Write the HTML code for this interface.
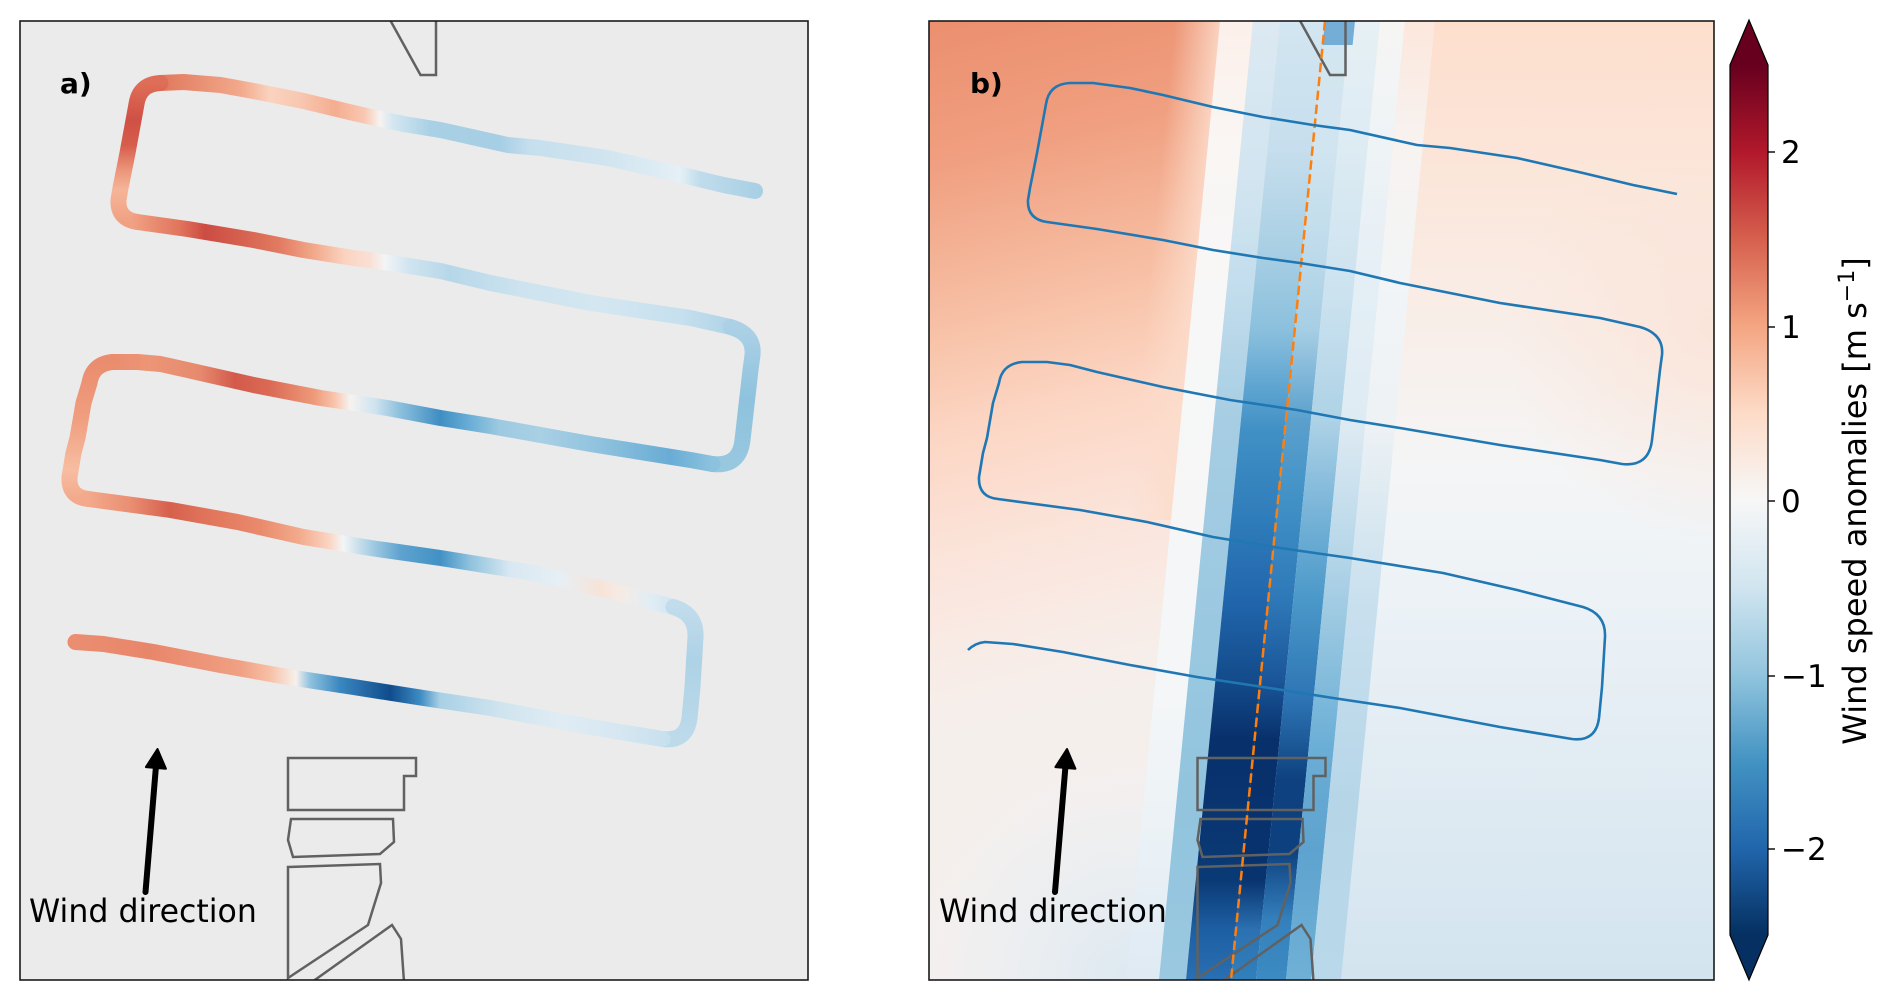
<!DOCTYPE html>
<html><head><meta charset="utf-8"><style>html,body{margin:0;padding:0;background:#fff;}svg{display:block}</style></head>
<body>
<svg width="1892" height="1001" viewBox="0 0 1892 1001" xmlns="http://www.w3.org/2000/svg" font-family="'DejaVu Sans','Liberation Sans',sans-serif">
<defs>
<clipPath id="cpa"><rect x="20" y="21" width="788" height="959"/></clipPath>
<clipPath id="cpb"><rect x="929" y="21" width="785" height="959"/></clipPath>

<linearGradient id="gA" gradientUnits="userSpaceOnUse" x1="0" y1="0" x2="800" y2="0">
<stop offset=".175" stop-color="#dc6b55"/><stop offset=".226" stop-color="#e58468"/><stop offset=".301" stop-color="#f2a98c"/>
<stop offset=".338" stop-color="#fad3bf"/><stop offset=".375" stop-color="#f8c7b0"/><stop offset=".419" stop-color="#f4ad90"/>
<stop offset=".456" stop-color="#f9c8b2"/><stop offset=".475" stop-color="#f7f3f1"/><stop offset=".49" stop-color="#d5e7f1"/>
<stop offset=".538" stop-color="#a9d0e5"/><stop offset=".625" stop-color="#a6cee4"/><stop offset=".663" stop-color="#c6dfee"/>
<stop offset=".75" stop-color="#cfe4ef"/><stop offset=".825" stop-color="#deecf4"/><stop offset=".85" stop-color="#e6f0f5"/>
<stop offset=".875" stop-color="#c0dcec"/><stop offset=".95" stop-color="#a8cfe4"/>
</linearGradient>
<linearGradient id="gB" gradientUnits="userSpaceOnUse" x1="0" y1="0" x2="0" y2="1000">
<stop offset=".083" stop-color="#df6e58"/><stop offset=".12" stop-color="#cf5045"/><stop offset=".145" stop-color="#d65d4c"/>
<stop offset=".17" stop-color="#eb957a"/><stop offset=".19" stop-color="#f5b598"/><stop offset=".222" stop-color="#f1a082"/>
</linearGradient>
<linearGradient id="gC" gradientUnits="userSpaceOnUse" x1="0" y1="0" x2="800" y2="0">
<stop offset=".1625" stop-color="#f2a385"/><stop offset=".226" stop-color="#e0735c"/><stop offset=".256" stop-color="#cc4c43"/>
<stop offset=".3" stop-color="#d5604e"/><stop offset=".35" stop-color="#e27b62"/><stop offset=".3925" stop-color="#f2a98b"/>
<stop offset=".431" stop-color="#fbd3c0"/><stop offset=".4625" stop-color="#f9e0d4"/><stop offset=".481" stop-color="#f3f4f5"/>
<stop offset=".5125" stop-color="#cfe4f0"/><stop offset=".5625" stop-color="#b6d7e9"/><stop offset=".65" stop-color="#cde3ef"/>
<stop offset=".75" stop-color="#d4e7f1"/><stop offset=".85" stop-color="#c6e0ee"/><stop offset=".925" stop-color="#acd1e6"/>
</linearGradient>
<linearGradient id="gD" gradientUnits="userSpaceOnUse" x1="0" y1="0" x2="0" y2="1000">
<stop offset=".327" stop-color="#acd1e6"/><stop offset=".4" stop-color="#8ec2dd"/><stop offset=".464" stop-color="#98c7e0"/>
</linearGradient>
<linearGradient id="gE" gradientUnits="userSpaceOnUse" x1="0" y1="0" x2="800" y2="0">
<stop offset=".14" stop-color="#ea8d70"/><stop offset=".1875" stop-color="#ed9576"/><stop offset=".25" stop-color="#e68a6e"/>
<stop offset=".294" stop-color="#d35a4b"/><stop offset=".3375" stop-color="#db6a55"/><stop offset=".3925" stop-color="#ee9a7a"/>
<stop offset=".419" stop-color="#f8c6ae"/><stop offset=".4375" stop-color="#f6f3f1"/><stop offset=".469" stop-color="#cfe3ef"/>
<stop offset=".5" stop-color="#8cc0dd"/><stop offset=".55" stop-color="#3f8ec3"/><stop offset=".5875" stop-color="#6aaed6"/>
<stop offset=".625" stop-color="#9dcae1"/><stop offset=".675" stop-color="#a9d0e5"/><stop offset=".75" stop-color="#8fc2de"/>
<stop offset=".8375" stop-color="#69acd5"/><stop offset=".89" stop-color="#8cc2de"/>
</linearGradient>
<linearGradient id="gF" gradientUnits="userSpaceOnUse" x1="0" y1="0" x2="0" y2="1000">
<stop offset=".362" stop-color="#ea8c6e"/><stop offset=".42" stop-color="#f09f80"/><stop offset=".47" stop-color="#f7bda1"/><stop offset=".499" stop-color="#f3a98b"/>
</linearGradient>
<linearGradient id="gG" gradientUnits="userSpaceOnUse" x1="0" y1="0" x2="800" y2="0">
<stop offset=".11" stop-color="#f3a98b"/><stop offset=".1625" stop-color="#ea8f73"/><stop offset=".2125" stop-color="#d6604d"/>
<stop offset=".25" stop-color="#df7159"/><stop offset=".325" stop-color="#ea8a6c"/><stop offset=".375" stop-color="#f3ab8d"/>
<stop offset=".4125" stop-color="#fbd6c4"/><stop offset=".429" stop-color="#f4f5f6"/><stop offset=".4625" stop-color="#a9cfe4"/>
<stop offset=".5" stop-color="#5fa3cf"/><stop offset=".55" stop-color="#4191c5"/><stop offset=".5875" stop-color="#8fc2de"/>
<stop offset=".6375" stop-color="#d8e8f2"/><stop offset=".7" stop-color="#e6eff4"/><stop offset=".75" stop-color="#f7e3d8"/>
<stop offset=".775" stop-color="#f6ebe4"/><stop offset=".8125" stop-color="#e1edf4"/><stop offset=".8625" stop-color="#c6dfee"/>
</linearGradient>
<linearGradient id="gH" gradientUnits="userSpaceOnUse" x1="0" y1="0" x2="0" y2="1000">
<stop offset=".607" stop-color="#c1dcec"/><stop offset=".66" stop-color="#aed2e6"/><stop offset=".74" stop-color="#bcdaea"/>
</linearGradient>
<linearGradient id="gI" gradientUnits="userSpaceOnUse" x1="0" y1="0" x2="800" y2="0">
<stop offset=".094" stop-color="#eb8d70"/><stop offset=".1875" stop-color="#e8866a"/><stop offset=".3" stop-color="#f0a083"/>
<stop offset=".3375" stop-color="#f7c0a6"/><stop offset=".37" stop-color="#f7f0ec"/><stop offset=".3875" stop-color="#8fc2de"/>
<stop offset=".425" stop-color="#3a87c0"/><stop offset=".4875" stop-color="#0f4c8c"/><stop offset=".525" stop-color="#3d8bc2"/>
<stop offset=".55" stop-color="#a9d0e5"/><stop offset=".625" stop-color="#cfe4ef"/><stop offset=".7" stop-color="#e0ecf4"/>
<stop offset=".775" stop-color="#d6e7f1"/><stop offset=".8375" stop-color="#c6e0ee"/>
</linearGradient>

<linearGradient id="rf" gradientUnits="userSpaceOnUse" x1="0" y1="0" x2="0" y2="1000">
<stop offset=".021" stop-color="#fddfcd"/><stop offset=".12" stop-color="#fce3d5"/><stop offset=".25" stop-color="#faeae1"/>
<stop offset=".38" stop-color="#f7f1ee"/><stop offset=".47" stop-color="#f4f5f6"/><stop offset=".6" stop-color="#ecf2f6"/>
<stop offset=".75" stop-color="#e2ecf3"/><stop offset=".9" stop-color="#d8e7f1"/><stop offset=".98" stop-color="#d3e4ef"/>
</linearGradient>
<radialGradient id="rpe" gradientUnits="userSpaceOnUse" cx="1714" cy="330" r="210">
<stop offset="0" stop-color="#fbe3d7" stop-opacity=".85"/><stop offset="1" stop-color="#fbe3d7" stop-opacity="0"/>
</radialGradient>
<linearGradient id="lf" gradientUnits="userSpaceOnUse" x1="929" y1="21" x2="1100" y2="700">
<stop offset="0" stop-color="#eb8f6f"/><stop offset=".2" stop-color="#f09f80"/><stop offset=".45" stop-color="#f8c4aa"/>
<stop offset=".58" stop-color="#fcd6c4"/><stop offset=".75" stop-color="#fbe4da"/><stop offset=".9" stop-color="#f8ece7"/><stop offset="1" stop-color="#f5efec"/>
</linearGradient>
<linearGradient id="lfo" gradientUnits="userSpaceOnUse" x1="1175" y1="21" x2="1219.8" y2="25.4">
<stop offset="0" stop-color="#fcdccb" stop-opacity="0"/><stop offset="1" stop-color="#fcdccb" stop-opacity=".85"/>
</linearGradient>
<radialGradient id="lbb" gradientUnits="userSpaceOnUse" cx="1130" cy="980" r="240">
<stop offset="0" stop-color="#dbe8f1" stop-opacity=".95"/><stop offset=".5" stop-color="#e6eef4" stop-opacity=".6"/><stop offset="1" stop-color="#eef2f5" stop-opacity="0"/>
</radialGradient>

<linearGradient id="sW" gradientUnits="userSpaceOnUse" x1="0" y1="0" x2="0" y2="1000">
<stop offset=".021" stop-color="#fcf0ea"/><stop offset=".15" stop-color="#f9f6f4"/><stop offset=".3" stop-color="#f7f7f7"/>
<stop offset=".7" stop-color="#f4f6f7"/><stop offset=".85" stop-color="#eaf1f6"/><stop offset=".98" stop-color="#dfeaf3"/>
</linearGradient>
<linearGradient id="sL1" gradientUnits="userSpaceOnUse" x1="0" y1="0" x2="0" y2="1000">
<stop offset=".021" stop-color="#dce9f2"/><stop offset=".2" stop-color="#d0e4f0"/><stop offset=".3" stop-color="#c0dcec"/>
<stop offset=".42" stop-color="#a6cde3"/><stop offset=".6" stop-color="#9cc9e1"/><stop offset=".8" stop-color="#92c4de"/><stop offset=".98" stop-color="#9ac8e0"/>
</linearGradient>
<linearGradient id="sC1" gradientUnits="userSpaceOnUse" x1="0" y1="0" x2="0" y2="1000">
<stop offset=".021" stop-color="#d3e6f1"/><stop offset=".15" stop-color="#c6deed"/><stop offset=".25" stop-color="#a9cfe4"/>
<stop offset=".33" stop-color="#8bc0dd"/><stop offset=".38" stop-color="#64a8d3"/><stop offset=".43" stop-color="#4190c5"/>
<stop offset=".52" stop-color="#2f7cba"/><stop offset=".6" stop-color="#2166ac"/><stop offset=".68" stop-color="#134b8b"/>
<stop offset=".74" stop-color="#08306b"/><stop offset=".88" stop-color="#0a3a75"/><stop offset=".93" stop-color="#1d5fa3"/><stop offset=".98" stop-color="#2a6fb1"/>
</linearGradient>
<linearGradient id="sC2" gradientUnits="userSpaceOnUse" x1="0" y1="0" x2="0" y2="1000">
<stop offset=".021" stop-color="#d3e6f1"/><stop offset=".15" stop-color="#d1e5f0"/><stop offset=".25" stop-color="#bedbeb"/>
<stop offset=".33" stop-color="#a6cee4"/><stop offset=".42" stop-color="#5ba0cd"/><stop offset=".5" stop-color="#4191c6"/>
<stop offset=".6" stop-color="#2e78b8"/><stop offset=".68" stop-color="#1a5699"/><stop offset=".74" stop-color="#08306b"/>
<stop offset=".88" stop-color="#08336f"/><stop offset=".93" stop-color="#2c71b2"/><stop offset=".98" stop-color="#3080bc"/>
</linearGradient>
<linearGradient id="sM" gradientUnits="userSpaceOnUse" x1="0" y1="0" x2="0" y2="1000">
<stop offset=".021" stop-color="#e6f0f5"/><stop offset=".15" stop-color="#ddebf3"/><stop offset=".3" stop-color="#cbe2ef"/>
<stop offset=".42" stop-color="#aed2e6"/><stop offset=".5" stop-color="#7fb8da"/><stop offset=".6" stop-color="#4a98c9"/>
<stop offset=".7" stop-color="#2d74b4"/><stop offset=".78" stop-color="#0e417f"/><stop offset=".85" stop-color="#0d407e"/>
<stop offset=".92" stop-color="#3480bd"/><stop offset=".98" stop-color="#3d8bc2"/>
</linearGradient>
<linearGradient id="sL2" gradientUnits="userSpaceOnUse" x1="0" y1="0" x2="0" y2="1000">
<stop offset=".021" stop-color="#f6f5f4"/><stop offset=".15" stop-color="#eef3f6"/><stop offset=".3" stop-color="#e3eef5"/>
<stop offset=".42" stop-color="#dfebf3"/><stop offset=".55" stop-color="#b7d7e9"/><stop offset=".65" stop-color="#8fc2de"/>
<stop offset=".75" stop-color="#6aaed6"/><stop offset=".85" stop-color="#5ea3cf"/><stop offset=".98" stop-color="#6fb0d6"/>
</linearGradient>
<linearGradient id="sL3" gradientUnits="userSpaceOnUse" x1="0" y1="0" x2="0" y2="1000">
<stop offset=".021" stop-color="#fce7dc"/><stop offset=".15" stop-color="#f7f3f1"/><stop offset=".3" stop-color="#f1f4f6"/>
<stop offset=".42" stop-color="#eef2f5"/><stop offset=".6" stop-color="#c9e0ee"/><stop offset=".8" stop-color="#b6d6e8"/><stop offset=".98" stop-color="#b9d8ea"/>
</linearGradient>

<linearGradient id="cb" x1="0" y1="0" x2="0" y2="1">
<stop offset="0" stop-color="#67001f"/><stop offset=".1" stop-color="#b2182b"/><stop offset=".2" stop-color="#d6604d"/>
<stop offset=".3" stop-color="#f4a582"/><stop offset=".4" stop-color="#fddbc7"/><stop offset=".5" stop-color="#f7f7f7"/>
<stop offset=".6" stop-color="#d1e5f0"/><stop offset=".7" stop-color="#92c5de"/><stop offset=".8" stop-color="#4393c3"/>
<stop offset=".9" stop-color="#2166ac"/><stop offset="1" stop-color="#053061"/>
</linearGradient>
</defs>

<rect x="0" y="0" width="1892" height="1001" fill="#ffffff"/>

<!-- ============ PANEL A ============ -->
<rect x="20" y="21" width="788" height="959" fill="#ebebeb"/>
<g clip-path="url(#cpa)">
  <g fill="none" stroke-width="16" stroke-linecap="round" stroke-linejoin="round">
    <path stroke="url(#gA)" d="M160.5,83 L183.5,82 L220.5,85 L253.5,91 L303.5,101 L353.5,113 L403.5,124 L440.5,130 L507.5,145 L540.5,148 L607.5,158 L673.5,173 L723.5,185 L755,191"/>
    <path stroke="url(#gB)" d="M160.5,83 Q139.5,84 136.5,104 L127.5,153 L120.5,188 L118.5,200 Q117.5,219 137.5,222"/>
    <path stroke="url(#gC)" d="M137.5,222 L187.5,229 L253.5,240 L303.5,250 L353.5,258 L390.5,263 L440.5,271 L490.5,283 L590.5,303 L690.5,318 L730.5,327"/>
    <path stroke="url(#gD)" d="M730.5,327 Q754.5,334 752.5,355 L750.5,370 L742.5,440 Q739.5,467 712.5,464"/>
    <path stroke="url(#gE)" d="M712.5,464 L690.5,460 L590.5,444 L490.5,426 L440.5,418 L387.5,408 L320.5,398 L253.5,385 L187.5,370 L160.5,364 L137.5,362 L112.5,362"/>
    <path stroke="url(#gF)" d="M112.5,362 Q92.5,364 89.5,383 L83.5,403 L77.5,438 L73.5,453 L69.5,477 Q68.5,497 88.5,499"/>
    <path stroke="url(#gG)" d="M88.5,499 L170.5,510 L237.5,522 L303.5,537 L370.5,548 L440.5,558 L533.5,573 L607.5,590 L673.5,607"/>
    <path stroke="url(#gH)" d="M673.5,607 Q696.5,614 695.5,637 L692.5,687 L689.5,718 Q686.5,742 662.5,739"/>
    <path stroke="url(#gI)" d="M662.5,739 L590.5,727 L490.5,708 L423.5,698 L353.5,687 L287.5,677 L220.5,665 L153.5,652 L103.5,644 L75.5,642"/>
  </g>
  <g fill="none" stroke="#616161" stroke-width="2.5" stroke-linejoin="miter">
    <polyline points="389,18 420.5,75 436,75 436,18"/>
    <polygon points="288,758 416,758 416,776 404,776 404,810 288,810"/>
    <polygon points="291,819 393,819 394,842 380,854 293,857 288,840"/>
    <polygon points="288,867 380,864 381,883 368,925 288,978"/>
    <polyline points="312,982 392,925 401,939 404,982"/>
  </g>
</g>
<rect x="20" y="21" width="788" height="959" fill="none" stroke="#1a1a1a" stroke-width="1.6"/>
<text x="60" y="93" font-size="28" font-weight="bold" fill="#000">a)</text>
<line x1="145.5" y1="892" x2="156" y2="766" stroke="#000" stroke-width="6" stroke-linecap="round"/>
<polygon points="157.5,749 165.9,768.7 145.9,767.1" fill="#000" stroke="#000" stroke-width="2" stroke-linejoin="round"/>
<text x="29" y="922" font-size="31.6" fill="#000">Wind direction</text>

<!-- ============ PANEL B ============ -->
<g clip-path="url(#cpb)">
  <rect x="929" y="21" width="785" height="959" fill="url(#rf)"/>
  <rect x="1450" y="100" width="270" height="460" fill="url(#rpe)"/>
  <polygon points="929,21 1220,21 1126,980 929,980" fill="url(#lf)"/>
  <polygon points="1175,21 1220,21 1171,520 1126,520" fill="url(#lfo)"/>
  <rect x="880" y="700" width="300" height="290" fill="url(#lbb)"/>
  <polygon points="1220,21 1253,21 1159,980 1126,980" fill="url(#sW)"/>
  <polygon points="1253,21 1280,21 1186,980 1159,980" fill="url(#sL1)"/>
  <polygon points="1280,21 1325,21 1231,980 1186,980" fill="url(#sC1)"/>
  <polygon points="1325,21 1350,21 1256,980 1231,980" fill="url(#sC2)"/>
  <polygon points="1350,21 1380,21 1286,980 1256,980" fill="url(#sM)"/>
  <polygon points="1380,21 1405,21 1311,980 1286,980" fill="url(#sL2)"/>
  <polygon points="1405,21 1435,21 1341,980 1311,980" fill="url(#sL3)"/>
  <polygon points="1325,21 1355,21 1352.6,45 1322.6,45" fill="#74add5"/>

  <g transform="translate(909.5,0)" fill="none" stroke="#616161" stroke-width="2.5">
    <polyline points="389,18 420.5,75 436,75 436,18"/>
    <polygon points="288,758 416,758 416,776 404,776 404,810 288,810"/>
    <polygon points="291,819 393,819 394,842 380,854 293,857 288,840"/>
    <polygon points="288,867 380,864 381,883 368,925 288,978"/>
    <polyline points="312,982 392,925 401,939 404,982"/>
  </g>

  <line x1="1325" y1="21" x2="1231" y2="980" stroke="#ff7f0e" stroke-width="2.5" stroke-dasharray="9.5,4.5"/>

  <path fill="none" stroke="#1f77b4" stroke-width="2.6" stroke-linejoin="round" stroke-linecap="butt"
   d="M1677,194 L1633,185 L1583,173 L1517,158 L1450,148 L1417,145 L1350,130 L1313,125 L1263,117 L1213,107 L1163,95 L1130,88 L1093,83 L1070,83 Q1049,84 1046,104 L1037,153 L1030,188 L1028,200 Q1027,219 1047,222 L1097,229 L1163,240 L1213,250 L1263,258 L1300,263 L1350,271 L1400,283 L1500,303 L1600,318 L1640,327 Q1664,334 1662,355 L1660,370 L1652,440 Q1649,467 1622,464 L1600,460 L1500,445 L1400,428 L1350,420 L1297,410 L1230,400 L1163,387 L1097,372 L1070,365 L1047,362 L1022,362 Q1002,364 999,383 L993,403 L987,438 L983,453 L979,477 Q978,497 998,499 L1080,510 L1147,522 L1213,537 L1280,548 L1350,558 L1443,573 L1517,590 L1583,607 Q1606,614 1605,637 L1602,687 L1599,718 Q1596,742 1572,739 L1500,727 L1400,708 L1333,698 L1263,687 L1197,677 L1130,665 L1063,652 L1013,644 L985,642 Q975,643 968,650"/>
</g>
<rect x="929" y="21" width="785" height="959" fill="none" stroke="#1a1a1a" stroke-width="1.6"/>
<text x="970" y="93" font-size="28" font-weight="bold" fill="#000">b)</text>
<line x1="1055" y1="892" x2="1065.5" y2="766" stroke="#000" stroke-width="6" stroke-linecap="round"/>
<polygon points="1067,749 1075.4,768.7 1055.4,767.1" fill="#000" stroke="#000" stroke-width="2" stroke-linejoin="round"/>
<text x="939" y="922" font-size="31.6" fill="#000">Wind direction</text>

<!-- ============ COLORBAR ============ -->
<polygon points="1730,66 1749,20 1768,66" fill="#67001f"/>
<rect x="1730" y="65" width="38" height="870" fill="url(#cb)"/>
<polygon points="1730,934 1749,980 1768,934" fill="#053061"/>
<polygon points="1730,65 1749,20 1768,65 1768,935 1749,980 1730,935" fill="none" stroke="#000" stroke-width="1.2"/>
<g stroke="#000" stroke-width="1.4">
  <line x1="1768" y1="152" x2="1775" y2="152"/>
  <line x1="1768" y1="327" x2="1775" y2="327"/>
  <line x1="1768" y1="501" x2="1775" y2="501"/>
  <line x1="1768" y1="676" x2="1775" y2="676"/>
  <line x1="1768" y1="849" x2="1775" y2="849"/>
</g>
<g font-size="31" fill="#000">
  <text x="1781" y="163">2</text>
  <text x="1781" y="338">1</text>
  <text x="1781" y="512">0</text>
  <text x="1781" y="687">−1</text>
  <text x="1781" y="860">−2</text>
</g>
<text x="1866" y="501" font-size="32" fill="#000" text-anchor="middle" transform="rotate(-90 1866 501)">Wind speed anomalies [m s<tspan font-size="22" dy="-12">−1</tspan><tspan dy="12">]</tspan></text>
</svg>
</body></html>
